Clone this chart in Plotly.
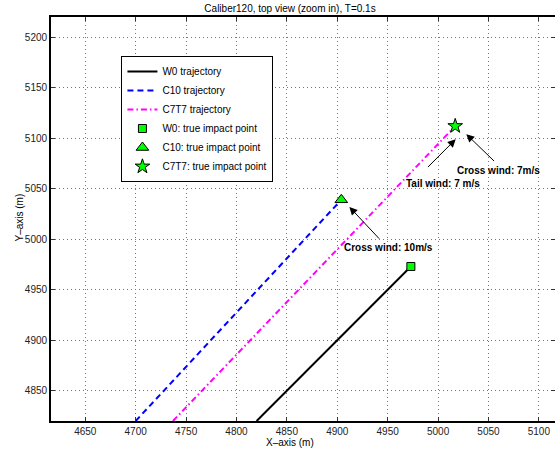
import plotly.graph_objects as go

# ---- data ----
w0_x = [4820, 4973]
w0_y = [4820, 4973]
c10_x = [4700, 4904]
c10_y = [4820, 5039]
c7t7_x = [4737, 5017]
c7t7_y = [4820, 5112]

imp_w0 = ([4973], [4973])
imp_c10 = ([4904], [5039])
imp_c7t7 = ([5017], [5112])

x_ticks = [4650, 4700, 4750, 4800, 4850, 4900, 4950, 5000, 5050, 5100]
y_ticks = [4850, 4900, 4950, 5000, 5050, 5100, 5150, 5200]
x_range = [4616, 5116]
y_range = [4820, 5220]

# annotations: text, text position, arrow head, arrow tail (data coords)
ann_text = ["Cross wind: 10m/s", "Tail wind: 7 m/s", "Cross wind: 7m/s"]
ann_text_xy = [(4951, 4992), (5005, 5055), (5060, 5068)]
ann_head_xy = [(4912, 5032), (5017.5, 5099), (5028, 5104)]
ann_tail_xy = [(4943, 4999), (4988.5, 5070), (5057, 5076)]

FONT = "Liberation Sans, Arial, Helvetica, sans-serif"
GREEN = "#00ff00"

PL, PR, PT, PB = 50.5, 0, 17, 29
pw, ph = 555 - PL - PR, 450 - PT - PB

fig = go.Figure()
fig.add_trace(go.Scatter(x=w0_x, y=w0_y, mode="lines", name="W0 trajectory",
                         line=dict(color="black", width=2)))
fig.add_trace(go.Scatter(x=c10_x, y=c10_y, mode="lines", name="C10 trajectory",
                         line=dict(color="blue", width=2, dash="6px,4px")))
fig.add_trace(go.Scatter(x=c7t7_x, y=c7t7_y, mode="lines", name="C7T7 trajectory",
                         line=dict(color="magenta", width=2, dash="6px,3px,1.5px,3px")))
fig.add_trace(go.Scatter(x=imp_w0[0], y=imp_w0[1], mode="markers", name="W0: true impact point",
                         marker=dict(symbol="square", size=8, color=GREEN,
                                     line=dict(color="black", width=1))))
fig.add_trace(go.Scatter(x=imp_c10[0], y=imp_c10[1], mode="markers", name="C10: true impact point",
                         marker=dict(symbol="triangle-up", size=11, color=GREEN,
                                     line=dict(color="black", width=1))))
fig.add_trace(go.Scatter(x=imp_c7t7[0], y=imp_c7t7[1], mode="markers", name="C7T7: true impact point",
                         marker=dict(symbol="star", size=11, color=GREEN,
                                     line=dict(color="black", width=1))))

annotations = []
for t, (tx, ty), (hx, hy), (sx, sy) in zip(ann_text, ann_text_xy, ann_head_xy, ann_tail_xy):
    annotations.append(dict(x=tx, y=ty, xref="x", yref="y", text="<b>" + t + "</b>",
                            showarrow=False, font=dict(family=FONT, size=10, color="black")))
    annotations.append(dict(x=hx, y=hy, ax=sx, ay=sy, xref="x", yref="y", axref="x", ayref="y",
                            text="", showarrow=True, arrowhead=2, arrowsize=1.6, arrowwidth=1,
                            arrowcolor="black", standoff=0, startstandoff=0))
# axis labels
annotations.append(dict(x=(290 - PL) / pw, y=1 - (442 - PT) / ph, xref="paper", yref="paper",
                        xanchor="center", yanchor="middle", text="X–axis (m)", showarrow=False,
                        font=dict(family=FONT, size=10, color="black")))
annotations.append(dict(x=(18 - PL) / pw, y=1 - (218 - PT) / ph, xref="paper", yref="paper",
                        xanchor="center", yanchor="middle", text="Y–axis (m)", showarrow=False,
                        textangle=-90, font=dict(family=FONT, size=10, color="black")))

axis_common = dict(showgrid=True, gridcolor="#777777", griddash="1px,3px", gridwidth=1,
                   ticks="inside", ticklen=4, tickwidth=1, tickcolor="#333333",
                   showline=True, linecolor="black", linewidth=1.8, mirror="allticks",
                   zeroline=False, automargin=False,
                   tickfont=dict(family=FONT, size=10, color="#222"))

fig.update_layout(
    width=555, height=450,
    margin=dict(l=PL, r=PR, t=PT, b=PB, autoexpand=False),
    plot_bgcolor="white", paper_bgcolor="white",
    title=dict(text="Caliber120, top view (zoom in), T=0.1s", x=290 / 555, xref="container",
               xanchor="center", y=1 - 8 / 450, yref="container", yanchor="middle",
               font=dict(family=FONT, size=10, color="black")),
    xaxis=dict(range=x_range, tickvals=x_ticks, **axis_common),
    yaxis=dict(range=y_range, tickvals=y_ticks, **axis_common),
    legend=dict(x=(121 - PL) / pw, y=1 - (56 - PT) / ph, xanchor="left", yanchor="top",
                bgcolor="white", bordercolor="black", borderwidth=1,
                font=dict(family=FONT, size=10, color="black"), itemwidth=30, tracegroupgap=0),
    showlegend=True,
    annotations=annotations,
)

fig.write_html("out.html", config={"displayModeBar": False},
               post_script="document.body.style.margin='0';")
